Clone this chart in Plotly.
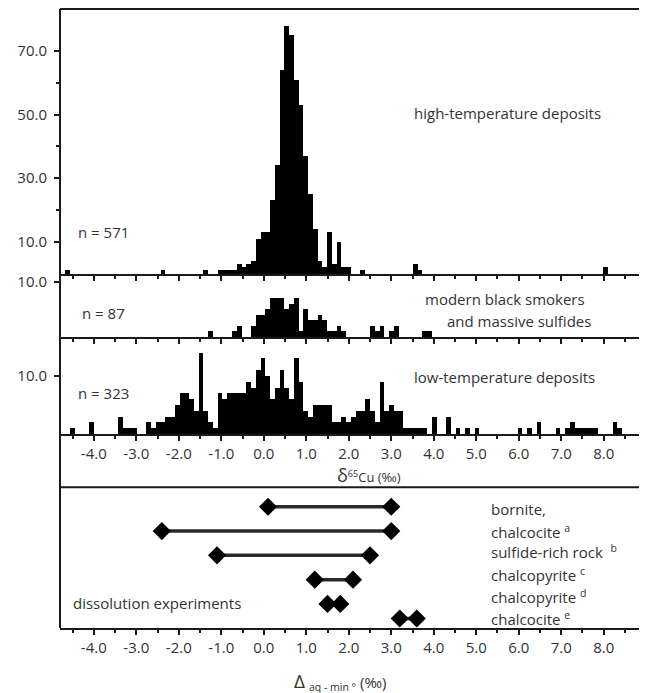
import numpy as np
import plotly.graph_objects as go

# ---------------- data ----------------
BIN_W = 0.112          # histogram bin width (per mil)
BIN_X0 = -4.724        # centre of bin index 0 (per mil)

# high-temperature deposits (n = 571): bin index -> count
high_bins = [1, 21, 30, 33, 34, 35, 36, 37, 38, 39, 40, 41, 42, 43, 44, 45, 46, 47,
             48, 49, 50, 51, 52, 53, 54, 55, 56, 57, 58, 59, 60, 63, 74, 75, 114]
high_counts = [1, 1, 1, 1, 1, 1, 1, 3, 2, 3, 4, 11, 13, 13, 23, 34, 64, 78,
               75, 61, 53, 37, 25, 14, 4, 2, 13, 3, 10, 2, 2, 1, 3, 1, 2]

# modern black smokers and massive sulfides (n = 87)
mid_bins = [31, 36, 37, 40, 41, 42, 43, 44, 45, 46, 47, 48, 49, 50, 51, 52, 53, 54,
            55, 56, 57, 58, 59, 65, 66, 67, 69, 70, 76, 77]
mid_counts = [1, 1, 2, 2, 4, 4, 5, 7, 7, 7, 5, 6, 7, 1, 5, 3, 3, 4,
              3, 1, 1, 2, 1, 2, 1, 2, 1, 2, 1, 1]

# low-temperature deposits (n = 323)
low_bins = [2, 6, 12, 13, 14, 15, 18, 19, 20, 21, 22, 23, 24, 25, 26, 27, 28, 29, 30, 31, 32,
            33, 34, 35, 36, 37, 38, 39, 40, 41, 42, 43, 44, 45, 46, 47, 48, 49, 50, 51, 52,
            53, 54, 55, 56, 57, 58, 59, 60, 61, 62, 63, 64, 65, 66, 67, 68, 69, 70, 71, 72,
            73, 74, 75, 76, 78, 81, 83, 85, 87, 96, 98, 100, 104, 106, 107, 108, 109, 110,
            111, 112, 116, 117]
low_counts = [1, 2, 3, 1, 1, 1, 2, 1, 2, 2, 3, 3, 5, 7, 7, 6, 4, 14, 4, 2, 1,
              7, 6, 7, 7, 7, 7, 9, 8, 11, 13, 10, 6, 8, 11, 8, 6, 13, 9, 4, 3,
              5, 5, 5, 5, 2, 2, 3, 2, 3, 4, 4, 6, 4, 2, 9, 4, 5, 4, 4, 1,
              1, 1, 1, 1, 3, 3, 1, 1, 1, 1, 1, 2, 1, 1, 2, 1, 1, 1,
              1, 1, 2, 1]

# dissolution experiments: range of Delta aq-min (per mil)
diss_row = [6, 5, 4, 3, 2, 1.4]
diss_min = [0.1, -2.4, -1.1, 1.2, 1.5, 3.2]
diss_max = [3.0, 3.0, 2.5, 2.1, 1.8, 3.6]
diss_labels = ["bornite,", "chalcocite <sup>a</sup>", "sulfide-rich rock  <sup>b</sup>",
               "chalcopyrite <sup>c</sup>", "chalcopyrite <sup>d</sup>", "chalcocite <sup>e</sup>"]

x_tick_vals = [-4, -3, -2, -1, 0, 1, 2, 3, 4, 5, 6, 7, 8, 9]
x_tick_text = ["-4.0", "-3.0", "-2.0", "-1.0", "0.0", "1.0", "2.0", "3.0",
               "4.0", "5.0", "6.0", "7.0", "8.0", ""]
x_minor_vals = [-4.5, -3.5, -2.5, -1.5, -0.5, 0.5, 1.5, 2.5, 3.5, 4.5, 5.5, 6.5, 7.5, 8.5]

# ---------------- figure ----------------
INK = "#1a1a1a"
TXT = "#333333"
FONT = "Open Sans"

fig = go.Figure()


def centres(idx):
    return BIN_X0 + BIN_W * np.asarray(idx, dtype=float)


for k, (b, c) in enumerate([(high_bins, high_counts), (mid_bins, mid_counts), (low_bins, low_counts)]):
    ax = "" if k == 0 else str(k + 1)
    fig.add_trace(go.Bar(x=centres(b), y=c, width=BIN_W, marker=dict(color="black", line=dict(width=0)),
                         xaxis="x" + ax, yaxis="y" + ax, showlegend=False, hoverinfo="x+y"))

for r, a, b in zip(diss_row, diss_min, diss_max):
    fig.add_trace(go.Scatter(x=[a, b], y=[r, r], mode="lines+markers",
                             line=dict(color="#2a2a2a", width=3.5),
                             marker=dict(symbol="diamond", size=14, color="black"),
                             xaxis="x4", yaxis="y4", showlegend=False))

# domains (fractions of plot area height, bottom = 0)
dom_top = [0.5711, 1.0]
dom_mid = [0.4701, 0.5711]
dom_low = [0.3134, 0.4701]
dom_bot = [0.0, 0.2273]

xbase = dict(range=[-4.796, 9.019], tickmode="array", tickvals=x_tick_vals, ticktext=x_tick_text,
             ticks="outside", ticklen=5, tickwidth=1.5, tickcolor=INK,
             showline=True, linecolor=INK, linewidth=2, showgrid=False, zeroline=False,
             minor=dict(tickmode="array", tickvals=x_minor_vals, ticks="outside", ticklen=3,
                        tickwidth=1.5, tickcolor=INK, showgrid=False),
             tickfont=dict(size=15, color=TXT, family=FONT), ticklabelstandoff=0, domain=[0, 1],
             automargin=False)

ybase = dict(ticks="outside", ticklen=5, tickwidth=1.5, tickcolor=INK, showline=False,
             showgrid=False, zeroline=False, tickmode="array", automargin=False,
             tickfont=dict(size=15, color=TXT, family=FONT), ticklabelstandoff=4)

# the page body adds an 8 px offset, so the figure is shifted to fit the window
fig.update_layout(
    width=639, height=685,
    margin=dict(l=52, r=0, t=1, b=65),
    paper_bgcolor="white", plot_bgcolor="white",
    font=dict(family=FONT, size=15, color=TXT),
    bargap=0, barmode="overlay", showlegend=False,
    xaxis=dict(xbase, anchor="y", showticklabels=False),
    yaxis=dict(ybase, domain=dom_top, anchor="x", range=[-0.3, 83.2],
               tickvals=[10, 30, 50, 70], ticktext=["10.0", "30.0", "50.0", "70.0"],
               minor=dict(tickmode="array", tickvals=[20, 40, 60], ticks="outside", ticklen=3,
                          tickwidth=1.5, tickcolor=INK)),
    xaxis2=dict(xbase, anchor="y2", showticklabels=False),
    yaxis2=dict(ybase, domain=dom_mid, anchor="x2", range=[0, 11.36],
                tickvals=[10], ticktext=["10.0"]),
    xaxis3=dict(xbase, anchor="y3"),
    yaxis3=dict(ybase, domain=dom_low, anchor="x3", range=[0, 16.7],
                tickvals=[10], ticktext=["10.0"]),
    xaxis4=dict(xbase, anchor="y4"),
    yaxis4=dict(ybase, domain=dom_bot, anchor="x4", range=[1.01, 6.80],
                showticklabels=False, ticks=""),
)

# frame lines
fig.add_shape(type="line", xref="paper", yref="paper", x0=0, x1=0, y0=0, y1=1,
              line=dict(color=INK, width=2))
fig.add_shape(type="line", xref="paper", yref="paper", x0=0, x1=1, y0=1, y1=1,
              line=dict(color=INK, width=2))
fig.add_shape(type="line", xref="paper", yref="paper", x0=0, x1=1, y0=dom_bot[1], y1=dom_bot[1],
              line=dict(color=INK, width=2))


def note(text, x, y, xanchor="left", size=15):
    fig.add_annotation(text=text, xref="paper", yref="paper", x=x, y=y, xanchor=xanchor,
                       yanchor="middle", showarrow=False, font=dict(size=size, color=TXT, family=FONT))


note("high-temperature deposits", 0.6005, 0.8320)
note("n = 571", 0.0273, 0.6397)
note("modern black smokers", 0.6184, 0.5315)
note("and massive sulfides", 0.6559, 0.4964)
note("n = 87", 0.0341, 0.5089)
note("low-temperature deposits", 0.6005, 0.4060)
note("n = 323", 0.0273, 0.3796)
note("<span style='font-size:18px'>δ</span><sup>65</sup>Cu (‰)", 0.5264, 0.2465, "center", 13)
note("dissolution experiments", 0.0187, 0.0399)
for lab, yp in zip(diss_labels, [0.1918, 0.1567, 0.1233, 0.0872, 0.0506, 0.0157]):
    note(lab, 0.7308, yp)
note("<span style='font-size:19px'>Δ</span> <sub>aq - min °</sub> (‰)", 0.477, -0.0856, "center", 15)

fig.write_html("out.html")
